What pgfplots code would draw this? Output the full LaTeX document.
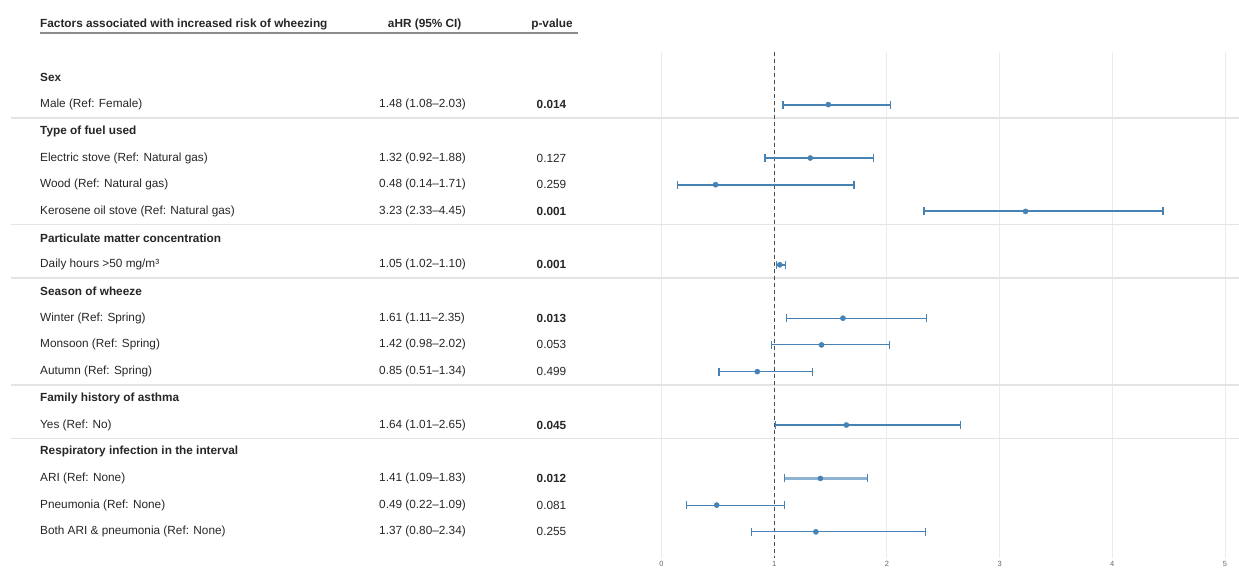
\documentclass[border=0pt]{standalone}
\usepackage{pgfplots}
\pgfplotsset{compat=1.18}
\usepackage{pgfplotstable}
\usepackage{fontspec}
\setmainfont{Liberation Sans}
\definecolor{steel}{HTML}{4682B4}
\definecolor{steellight}{HTML}{8FB2D3}
\definecolor{gridc}{HTML}{EBEBEB}
\definecolor{sepc}{HTML}{E4E4E4}
\definecolor{txt}{HTML}{262626}
\newcommand\fs{\fontsize{11.8}{14}\selectfont}
\newcommand\lab[2]{\node[anchor=west,font=\fs,text=txt,inner sep=0pt] at (axis cs:-5.5146,#1){#2};}
\newcommand\grp[2]{\node[anchor=west,font=\fs\bfseries,text=txt,inner sep=0pt] at (axis cs:-5.5146,#1){#2};}
\newcommand\hrv[2]{\node[anchor=west,font=\fs,text=txt,inner sep=0pt] at (axis cs:-2.5067,#1){#2};}
\newcommand\pv[2]{\node[anchor=center,font=\fs,text=txt,inner sep=0pt] at (axis cs:-0.976,#1){#2};}
\newcommand\pvb[2]{\node[anchor=center,font=\fs\bfseries,text=txt,inner sep=0pt] at (axis cs:-0.976,#1){#2};}
\newcommand\sep[1]{\draw[sepc,line width=1.4pt] (axis cs:-5.772,#1) -- (axis cs:5.124,#1);}
\begin{document}
\begin{tikzpicture}[x=1pt,y=1pt]
\pgfplotstableread{
hr row ep em
1.48 -1 0.55 0.40
1.32 -3 0.56 0.40
0.48 -4 1.23 0.34
3.23 -5 1.22 0.90
1.05 -7 0.05 0.03
}\thickdata
\pgfplotstableread{
hr row ep em
1.41 -15 0.42 0.32
}\aridata
\pgfplotstableread{
hr row ep em
1.61 -9 0.74 0.50
1.42 -10 0.60 0.44
0.85 -11 0.49 0.34
1.64 -13 1.01 0.63
0.49 -16 0.60 0.27
1.37 -17 0.97 0.57
}\thindata
\begin{axis}[at={(661.5pt,10pt)}, anchor=south west, scale only axis,
  width=563.5pt, height=506pt, xmin=0, xmax=5, ymin=-17.98, ymax=0.97,
  clip=false, axis line style={draw=none}, major tick length=0pt,
  ytick=\empty, xtick={0,1,2,3,4,5}, xmajorgrids,
  grid style={gridc, line width=1pt},
  xticklabel style={font=\fontsize{7.5}{9}\selectfont, text=black!60, yshift=0.5pt},
  /pgf/number format/assume math mode=true]
% header
\node[anchor=west,font=\fs\bfseries,text=txt,inner sep=0pt] at (axis cs:-5.5146,2.0) {Factors associated with increased risk of wheezing};
\node[anchor=center,font=\fs\bfseries,text=txt,inner sep=0pt] at (axis cs:-2.1012,2.0) {aHR (95\% CI)};
\node[anchor=center,font=\fs\bfseries,text=txt,inner sep=0pt] at (axis cs:-0.9716,2.0) {p-value};
\draw[black!45,line width=1.5pt] (axis cs:-5.5146,1.685) -- (axis cs:-0.7409,1.685);
% separators
\sep{-1.5}\sep{-5.5}\sep{-7.5}\sep{-11.5}\sep{-13.5}
% labels
\grp{0}{Sex}
\lab{-1}{Male (Ref: Female)}\hrv{-1}{1.48 (1.08–2.03)}\pvb{-1}{0.014}
\grp{-2}{Type of fuel used}
\lab{-3}{Electric stove (Ref: Natural gas)}\hrv{-3}{1.32 (0.92–1.88)}\pv{-3}{0.127}
\lab{-4}{Wood (Ref: Natural gas)}\hrv{-4}{0.48 (0.14–1.71)}\pv{-4}{0.259}
\lab{-5}{Kerosene oil stove (Ref: Natural gas)}\hrv{-5}{3.23 (2.33–4.45)}\pvb{-5}{0.001}
\grp{-6}{Particulate matter concentration}
\lab{-7}{Daily hours >50 mg/m³}\hrv{-7}{1.05 (1.02–1.10)}\pvb{-7}{0.001}
\grp{-8}{Season of wheeze}
\lab{-9}{Winter (Ref: Spring)}\hrv{-9}{1.61 (1.11–2.35)}\pvb{-9}{0.013}
\lab{-10}{Monsoon (Ref: Spring)}\hrv{-10}{1.42 (0.98–2.02)}\pv{-10}{0.053}
\lab{-11}{Autumn (Ref: Spring)}\hrv{-11}{0.85 (0.51–1.34)}\pv{-11}{0.499}
\grp{-12}{Family history of asthma}
\lab{-13}{Yes (Ref: No)}\hrv{-13}{1.64 (1.01–2.65)}\pvb{-13}{0.045}
\grp{-14}{Respiratory infection in the interval}
\lab{-15}{ARI (Ref: None)}\hrv{-15}{1.41 (1.09–1.83)}\pvb{-15}{0.012}
\lab{-16}{Pneumonia (Ref: None)}\hrv{-16}{0.49 (0.22–1.09)}\pv{-16}{0.081}
\lab{-17}{Both ARI \& pneumonia (Ref: None)}\hrv{-17}{1.37 (0.80–2.34)}\pv{-17}{0.255}
% reference line
\addplot[black!70, line width=1.1pt, dash pattern=on 4pt off 3pt] coordinates {(1,0.97) (1,-17.98)};
% estimates
\addplot[only marks, mark=*, mark size=2.6pt, color=steel,
  error bars/.cd, x dir=both, x explicit, error mark=|,
  error bar style={line width=2pt, color=steel},
  error mark options={line width=1.5pt, mark size=4pt, color=steel}]
  table[x=hr, y=row, x error plus=ep, x error minus=em]{\thickdata};
\addplot[only marks, mark=*, mark size=2.6pt, color=steel,
  error bars/.cd, x dir=both, x explicit, error mark=|,
  error bar style={line width=2.4pt, color=steellight},
  error mark options={line width=1.5pt, mark size=4pt, color=steel}]
  table[x=hr, y=row, x error plus=ep, x error minus=em]{\aridata};
\addplot[only marks, mark=*, mark size=2.6pt, color=steel,
  error bars/.cd, x dir=both, x explicit, error mark=|,
  error bar style={line width=1.1pt, color=steel},
  error mark options={line width=1.1pt, mark size=4pt, color=steel}]
  table[x=hr, y=row, x error plus=ep, x error minus=em]{\thindata};
\end{axis}
\pgfresetboundingbox
\path[use as bounding box] (0,0) rectangle (1239,568);
\end{tikzpicture}
\end{document}
